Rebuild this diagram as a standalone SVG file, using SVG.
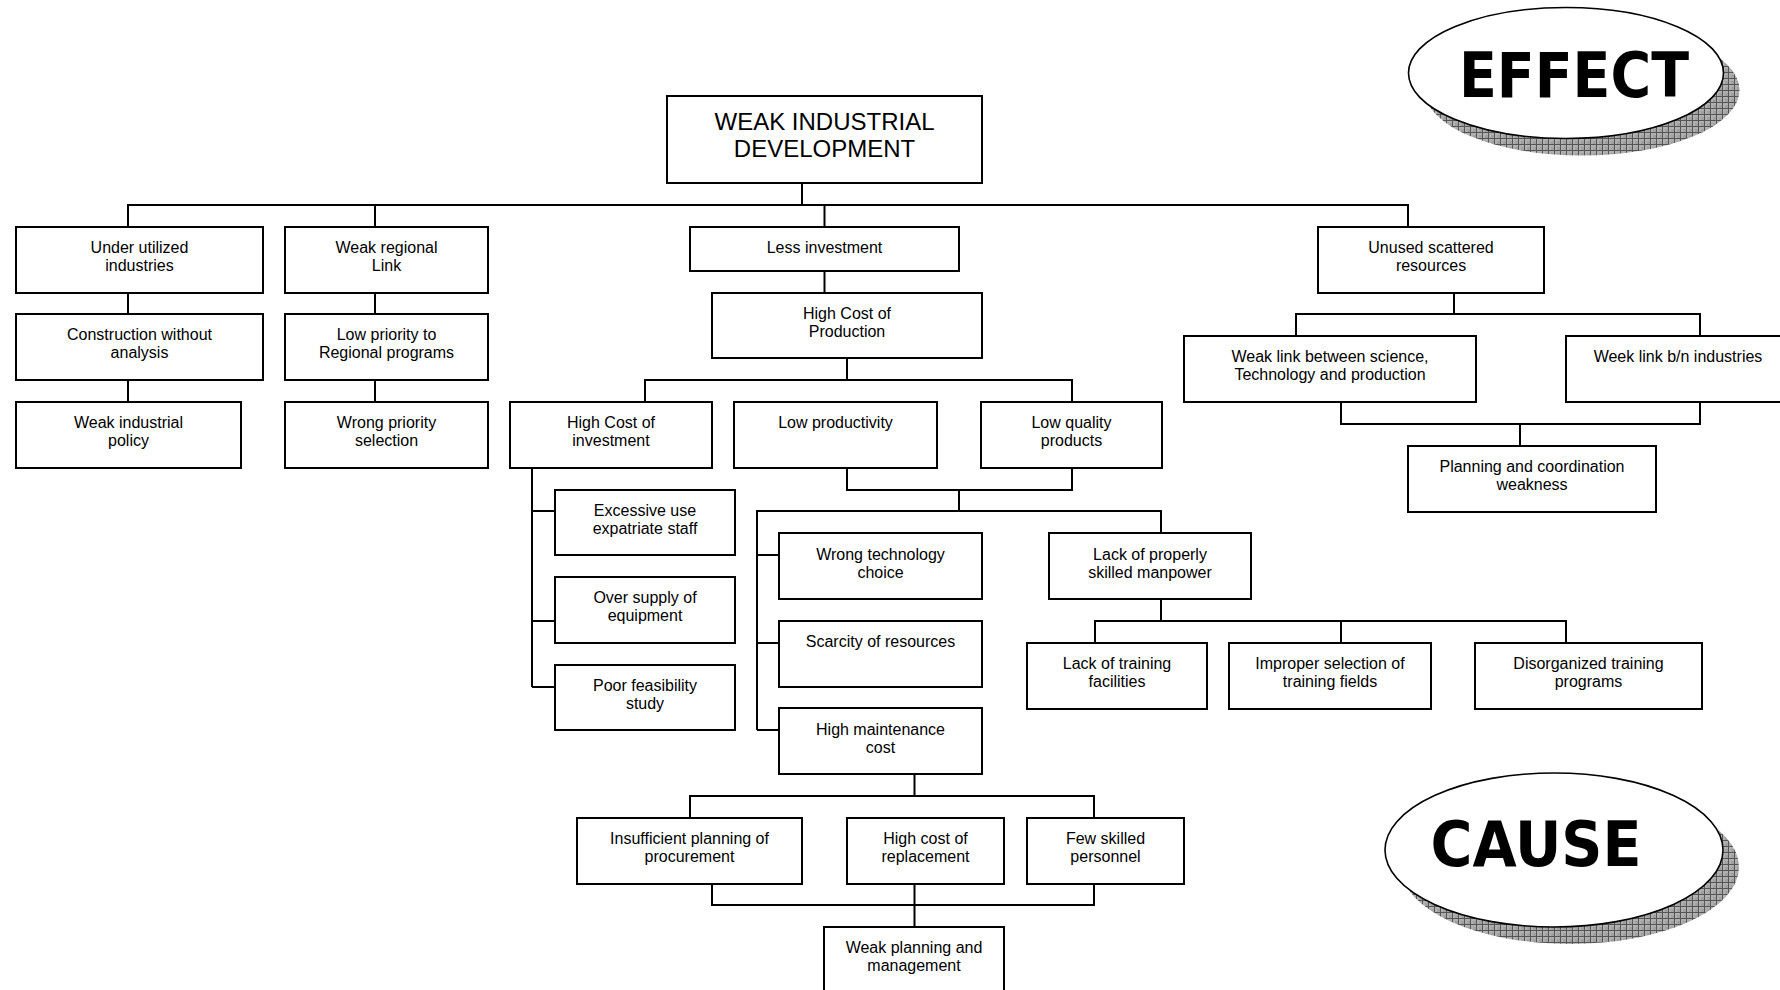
<svg xmlns="http://www.w3.org/2000/svg" width="1780" height="990" viewBox="0 0 1780 990">
<defs>
<pattern id="grid" x="0" y="0" width="6" height="6" patternUnits="userSpaceOnUse">
<rect width="6" height="6" fill="#b0b0b0"/>
<rect x="3" y="3" width="3" height="3" fill="#a0a0a0"/>
<path d="M0,0.5 H6 M0.5,0 V6" stroke="#555" stroke-width="1"/>
</pattern>
<style>
.box{fill:#fff;stroke:#000;stroke-width:2}
.t{font-family:"Liberation Sans",Arial,sans-serif;font-size:16px;text-anchor:middle;fill:#000}
.big{font-size:24px}
.conn path{fill:none;stroke:#000;stroke-width:2}
.oval{fill:#fff;stroke:#000;stroke-width:1.6}
.shadow{fill:url(#grid)}
.ot{font-family:"DejaVu Sans","Liberation Sans",sans-serif;font-weight:bold;font-size:63px;text-anchor:middle;fill:#000}
</style>
</defs>
<rect width="1780" height="990" fill="#fff"/>

<g id="effect">
<ellipse class="shadow" cx="1582" cy="90" rx="157.5" ry="65.5"/>
<ellipse class="oval" cx="1566" cy="73" rx="157.5" ry="65.5"/>
<text class="ot" x="1574" y="97" textLength="230" lengthAdjust="spacingAndGlyphs">EFFECT</text>
</g>
<g id="cause">
<ellipse class="shadow" cx="1570" cy="867" rx="169" ry="77"/>
<ellipse class="oval" cx="1554" cy="850" rx="169" ry="77"/>
<text class="ot" x="1536" y="866" textLength="211" lengthAdjust="spacingAndGlyphs">CAUSE</text>
</g>

<g class="conn" id="connectors">
<path d="M802,183 V205"/>
<path d="M128,227 V205 H1408 V227"/>
<path d="M375,205 V227"/>
<path d="M824.5,205 V227"/>
<path d="M128,293 V314 M128,380 V402"/>
<path d="M375,293 V314 M375,380 V402"/>
<path d="M824.5,271 V293"/>
<path d="M847,358 V380 M645,402 V380 H1072 V402"/>
<path d="M532,468 V687 M532,511 H555 M532,621 H555 M532,687 H555"/>
<path d="M847,468 V490 H1072 V468 M959,490 V511"/>
<path d="M757,730 V511 H1161 V533"/>
<path d="M757,555 H779 M757,643 H779 M757,730 H779"/>
<path d="M914.5,774 V796 M690,818 V796 H1094 V818"/>
<path d="M712,884 V905 H1094 V884 M914.5,884 V927"/>
<path d="M1161,599 V621 M1095,643 V621 H1566 V643 M1341,621 V643"/>
<path d="M1454,293 V314 M1296,336 V314 H1700 V336"/>
<path d="M1341,402 V424 H1700 V402 M1520,424 V446"/>
</g>

<g id="n-top"><rect class="box" x="667" y="96" width="315" height="87"/>
<text class="t big" x="824.5" y="129.5">WEAK INDUSTRIAL</text><text class="t big" x="824.5" y="157">DEVELOPMENT</text></g>

<g id="n-under"><rect class="box" x="16" y="227" width="247" height="66"/>
<text class="t" x="139.5" y="253">Under utilized</text><text class="t" x="139.5" y="271.4">industries</text></g>
<g id="n-weakreg"><rect class="box" x="285" y="227" width="203" height="66"/>
<text class="t" x="386.5" y="253">Weak regional</text><text class="t" x="386.5" y="271.4">Link</text></g>
<g id="n-construction"><rect class="box" x="16" y="314" width="247" height="66"/>
<text class="t" x="139.5" y="340">Construction without</text><text class="t" x="139.5" y="358.4">analysis</text></g>
<g id="n-lowprio"><rect class="box" x="285" y="314" width="203" height="66"/>
<text class="t" x="386.5" y="340">Low priority to</text><text class="t" x="386.5" y="358.4">Regional programs</text></g>
<g id="n-policy"><rect class="box" x="16" y="402" width="225" height="66"/>
<text class="t" x="128.5" y="428">Weak industrial</text><text class="t" x="128.5" y="446.4">policy</text></g>
<g id="n-wrongprio"><rect class="box" x="285" y="402" width="203" height="66"/>
<text class="t" x="386.5" y="428">Wrong priority</text><text class="t" x="386.5" y="446.4">selection</text></g>

<g id="n-lessinv"><rect class="box" x="690" y="227" width="269" height="44"/>
<text class="t" x="824.5" y="253">Less investment</text></g>
<g id="n-hcp"><rect class="box" x="712" y="293" width="270" height="65"/>
<text class="t" x="847" y="319">High Cost of</text><text class="t" x="847" y="337.4">Production</text></g>
<g id="n-hci"><rect class="box" x="510" y="402" width="202" height="66"/>
<text class="t" x="611" y="428">High Cost of</text><text class="t" x="611" y="446.4">investment</text></g>
<g id="n-lowprod"><rect class="box" x="734" y="402" width="203" height="66"/>
<text class="t" x="835.5" y="428">Low productivity</text></g>
<g id="n-lowqual"><rect class="box" x="981" y="402" width="181" height="66"/>
<text class="t" x="1071.5" y="428">Low quality</text><text class="t" x="1071.5" y="446.4">products</text></g>

<g id="n-excessive"><rect class="box" x="555" y="490" width="180" height="65"/>
<text class="t" x="645" y="515.5">Excessive use</text><text class="t" x="645" y="533.9">expatriate staff</text></g>
<g id="n-oversupply"><rect class="box" x="555" y="577" width="180" height="66"/>
<text class="t" x="645" y="603">Over supply of</text><text class="t" x="645" y="621.4">equipment</text></g>
<g id="n-poorfeas"><rect class="box" x="555" y="665" width="180" height="65"/>
<text class="t" x="645" y="691">Poor feasibility</text><text class="t" x="645" y="709.4">study</text></g>

<g id="n-wrongtech"><rect class="box" x="779" y="533" width="203" height="66"/>
<text class="t" x="880.5" y="559.5">Wrong technology</text><text class="t" x="880.5" y="577.9">choice</text></g>
<g id="n-scarcity"><rect class="box" x="779" y="621" width="203" height="66"/>
<text class="t" x="880.5" y="647">Scarcity of resources</text></g>
<g id="n-highmaint"><rect class="box" x="779" y="708" width="203" height="66"/>
<text class="t" x="880.5" y="734.5">High maintenance</text><text class="t" x="880.5" y="752.9">cost</text></g>

<g id="n-lackprop"><rect class="box" x="1049" y="533" width="202" height="66"/>
<text class="t" x="1150" y="559.5">Lack of properly</text><text class="t" x="1150" y="577.9">skilled manpower</text></g>
<g id="n-lacktrain"><rect class="box" x="1027" y="643" width="180" height="66"/>
<text class="t" x="1117" y="669">Lack of training</text><text class="t" x="1117" y="687.4">facilities</text></g>
<g id="n-improper"><rect class="box" x="1229" y="643" width="202" height="66"/>
<text class="t" x="1330" y="669">Improper selection of</text><text class="t" x="1330" y="687.4">training fields</text></g>
<g id="n-disorg"><rect class="box" x="1475" y="643" width="227" height="66"/>
<text class="t" x="1588.5" y="669">Disorganized training</text><text class="t" x="1588.5" y="687.4">programs</text></g>

<g id="n-unused"><rect class="box" x="1318" y="227" width="226" height="66"/>
<text class="t" x="1431" y="253">Unused scattered</text><text class="t" x="1431" y="271.4">resources</text></g>
<g id="n-weaklink"><rect class="box" x="1184" y="336" width="292" height="66"/>
<text class="t" x="1330" y="362">Weak link between science,</text><text class="t" x="1330" y="380.4">Technology and production</text></g>
<g id="n-weeklink"><rect class="box" x="1566" y="336" width="224" height="66"/>
<text class="t" x="1678" y="362">Week link b/n industries</text></g>
<g id="n-planning"><rect class="box" x="1408" y="446" width="248" height="66"/>
<text class="t" x="1532" y="472">Planning and coordination</text><text class="t" x="1532" y="490.4">weakness</text></g>

<g id="n-insufficient"><rect class="box" x="577" y="818" width="225" height="66"/>
<text class="t" x="689.5" y="844">Insufficient planning of</text><text class="t" x="689.5" y="862.4">procurement</text></g>
<g id="n-replacement"><rect class="box" x="847" y="818" width="157" height="66"/>
<text class="t" x="925.5" y="844">High cost of</text><text class="t" x="925.5" y="862.4">replacement</text></g>
<g id="n-fewskilled"><rect class="box" x="1027" y="818" width="157" height="66"/>
<text class="t" x="1105.5" y="844">Few skilled</text><text class="t" x="1105.5" y="862.4">personnel</text></g>
<g id="n-weakplan"><rect class="box" x="824" y="927" width="180" height="80"/>
<text class="t" x="914" y="953">Weak planning and</text><text class="t" x="914" y="971.4">management</text></g>
</svg>
